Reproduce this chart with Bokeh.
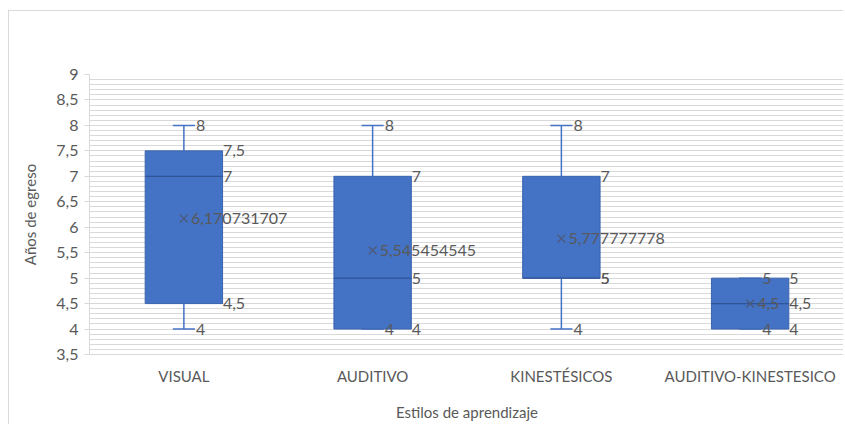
from bokeh.plotting import figure
from bokeh.models import ColumnDataSource, FactorRange, Range1d, FixedTicker
from bokeh.transform import dodge
from bokeh.embed import file_html
from bokeh.resources import INLINE
from bokeh.core.properties import value

categories = ["VISUAL", "AUDITIVO", "KINESTÉSICOS", "AUDITIVO-KINESTESICO"]
mins = [4, 4, 4, 4]
q1s = [4.5, 4, 5, 4]
medians = [7, 5, 5, 4.5]
q3s = [7.5, 7, 7, 5]
maxs = [8, 8, 8, 5]
means = [6.170731707, 5.545454545, 5.777777778, 4.5]
y_ticks = [3.5, 4, 4.5, 5, 5.5, 6, 6.5, 7, 7.5, 8, 8.5, 9]

FONT = "Lato"
BLUE = "#4472C4"
DARK = "#2F5597"
GRAY = "#595959"
GRID = "#d9d9d9"


def fmt(v):
    s = f"{v:.9f}".rstrip("0").rstrip(".")
    return s.replace(".", ",")


p = figure(
    width=835, height=414,
    x_range=FactorRange(*categories, range_padding=0),
    y_range=Range1d(3.5, 9),
    output_backend="svg", toolbar_location=None,
    min_border_left=80, min_border_right=0, min_border_top=63, min_border_bottom=71,
)
p.outline_line_color = None
p.background_fill_color = "white"
p.border_fill_color = "white"
p.styles = {"border-left": "1px solid #d9d9d9", "border-top": "1px solid #d9d9d9",
            "margin-left": "8px", "margin-top": "10px"}

src = ColumnDataSource(dict(cat=categories, mn=mins, q1=q1s, med=medians,
                            q3=q3s, mx=maxs, mean=means))

CAP = 0.0585
BOX = 0.205
# whiskers
p.segment(x0="cat", y0="q3", x1="cat", y1="mx", source=src, line_color=BLUE, line_width=1.5)
p.segment(x0="cat", y0="q1", x1="cat", y1="mn", source=src, line_color=BLUE, line_width=1.5)
# caps
p.segment(x0=dodge("cat", -CAP, range=p.x_range), y0="mx",
          x1=dodge("cat", CAP, range=p.x_range), y1="mx",
          source=src, line_color=BLUE, line_width=1.5)
p.segment(x0=dodge("cat", -CAP, range=p.x_range), y0="mn",
          x1=dodge("cat", CAP, range=p.x_range), y1="mn",
          source=src, line_color=BLUE, line_width=1.5)
# boxes
p.vbar(x="cat", width=2 * BOX, bottom="q1", top="q3", source=src,
       fill_color=BLUE, line_color="#3A64AE", line_width=1)
# median
p.segment(x0=dodge("cat", -BOX, range=p.x_range), y0="med",
          x1=dodge("cat", BOX, range=p.x_range), y1="med",
          source=src, line_color=DARK, line_width=1.3)
# mean markers
p.scatter(x="cat", y="mean", source=src, marker="x", size=11, line_color="#4d5a78", line_width=1.3)

# labels
wx, wy, wt = [], [], []
for c, a, b in zip(categories, mins, maxs):
    wx += [c, c]
    wy += [b, a]
    wt += [fmt(b), fmt(a)]
p.text(x=wx, y=wy, text=wt, x_offset=12, text_baseline="middle", text_align="left",
       text_font=value(FONT), text_font_size="16px", text_color=GRAY)

qx, qy, qt = [], [], []
for c, a, m, b in zip(categories, q1s, medians, q3s):
    for v in (b, m, a):
        qx.append(c)
        qy.append(v)
        qt.append(fmt(v))
p.text(x=qx, y=qy, text=qt, x_offset=39, text_baseline="middle", text_align="left",
       text_font=value(FONT), text_font_size="16px", text_color=GRAY)

p.text(x=categories, y=means, text=[fmt(m) for m in means], x_offset=7,
       text_baseline="middle", text_align="left",
       text_font=value(FONT), text_font_size="16px", text_color=GRAY)

# axes
minor = [round(3.5 + 0.1 * i, 1) for i in range(56)]
p.yaxis.ticker = FixedTicker(ticks=y_ticks, minor_ticks=minor)
p.yaxis.major_label_overrides = {t: fmt(t) for t in y_ticks}
p.yaxis.axis_line_color = GRID
p.yaxis.major_tick_line_color = GRID
p.yaxis.major_tick_out = 5
p.yaxis.major_tick_in = 0
p.yaxis.minor_tick_line_color = None
p.yaxis.major_label_standoff = 6
p.yaxis.major_label_text_font = FONT
p.yaxis.major_label_text_font_size = "16px"
p.yaxis.major_label_text_color = GRAY
p.yaxis.axis_label = "Años de egreso"
p.yaxis.axis_label_text_font = FONT
p.yaxis.axis_label_text_font_size = "15px"
p.yaxis.axis_label_text_font_style = "normal"
p.yaxis.axis_label_text_color = GRAY
p.yaxis.axis_label_standoff = 14

p.xaxis.axis_line_color = GRID
p.xaxis.major_tick_line_color = None
p.xaxis.minor_tick_line_color = None
p.xaxis.major_tick_out = 0
p.xaxis.major_tick_in = 0
p.xaxis.major_label_standoff = 12
p.xaxis.major_label_text_font = FONT
p.xaxis.major_label_text_font_size = "15px"
p.xaxis.major_label_text_color = GRAY
p.xaxis.axis_label = "Estilos de aprendizaje"
p.xaxis.axis_label_text_font = FONT
p.xaxis.axis_label_text_font_size = "15px"
p.xaxis.axis_label_text_font_style = "normal"
p.xaxis.axis_label_text_color = GRAY
p.xaxis.axis_label_standoff = 15

p.xgrid.grid_line_color = None
p.ygrid.grid_line_color = GRID
p.ygrid.minor_grid_line_color = GRID

open("out.html", "w").write(file_html(p, INLINE))
